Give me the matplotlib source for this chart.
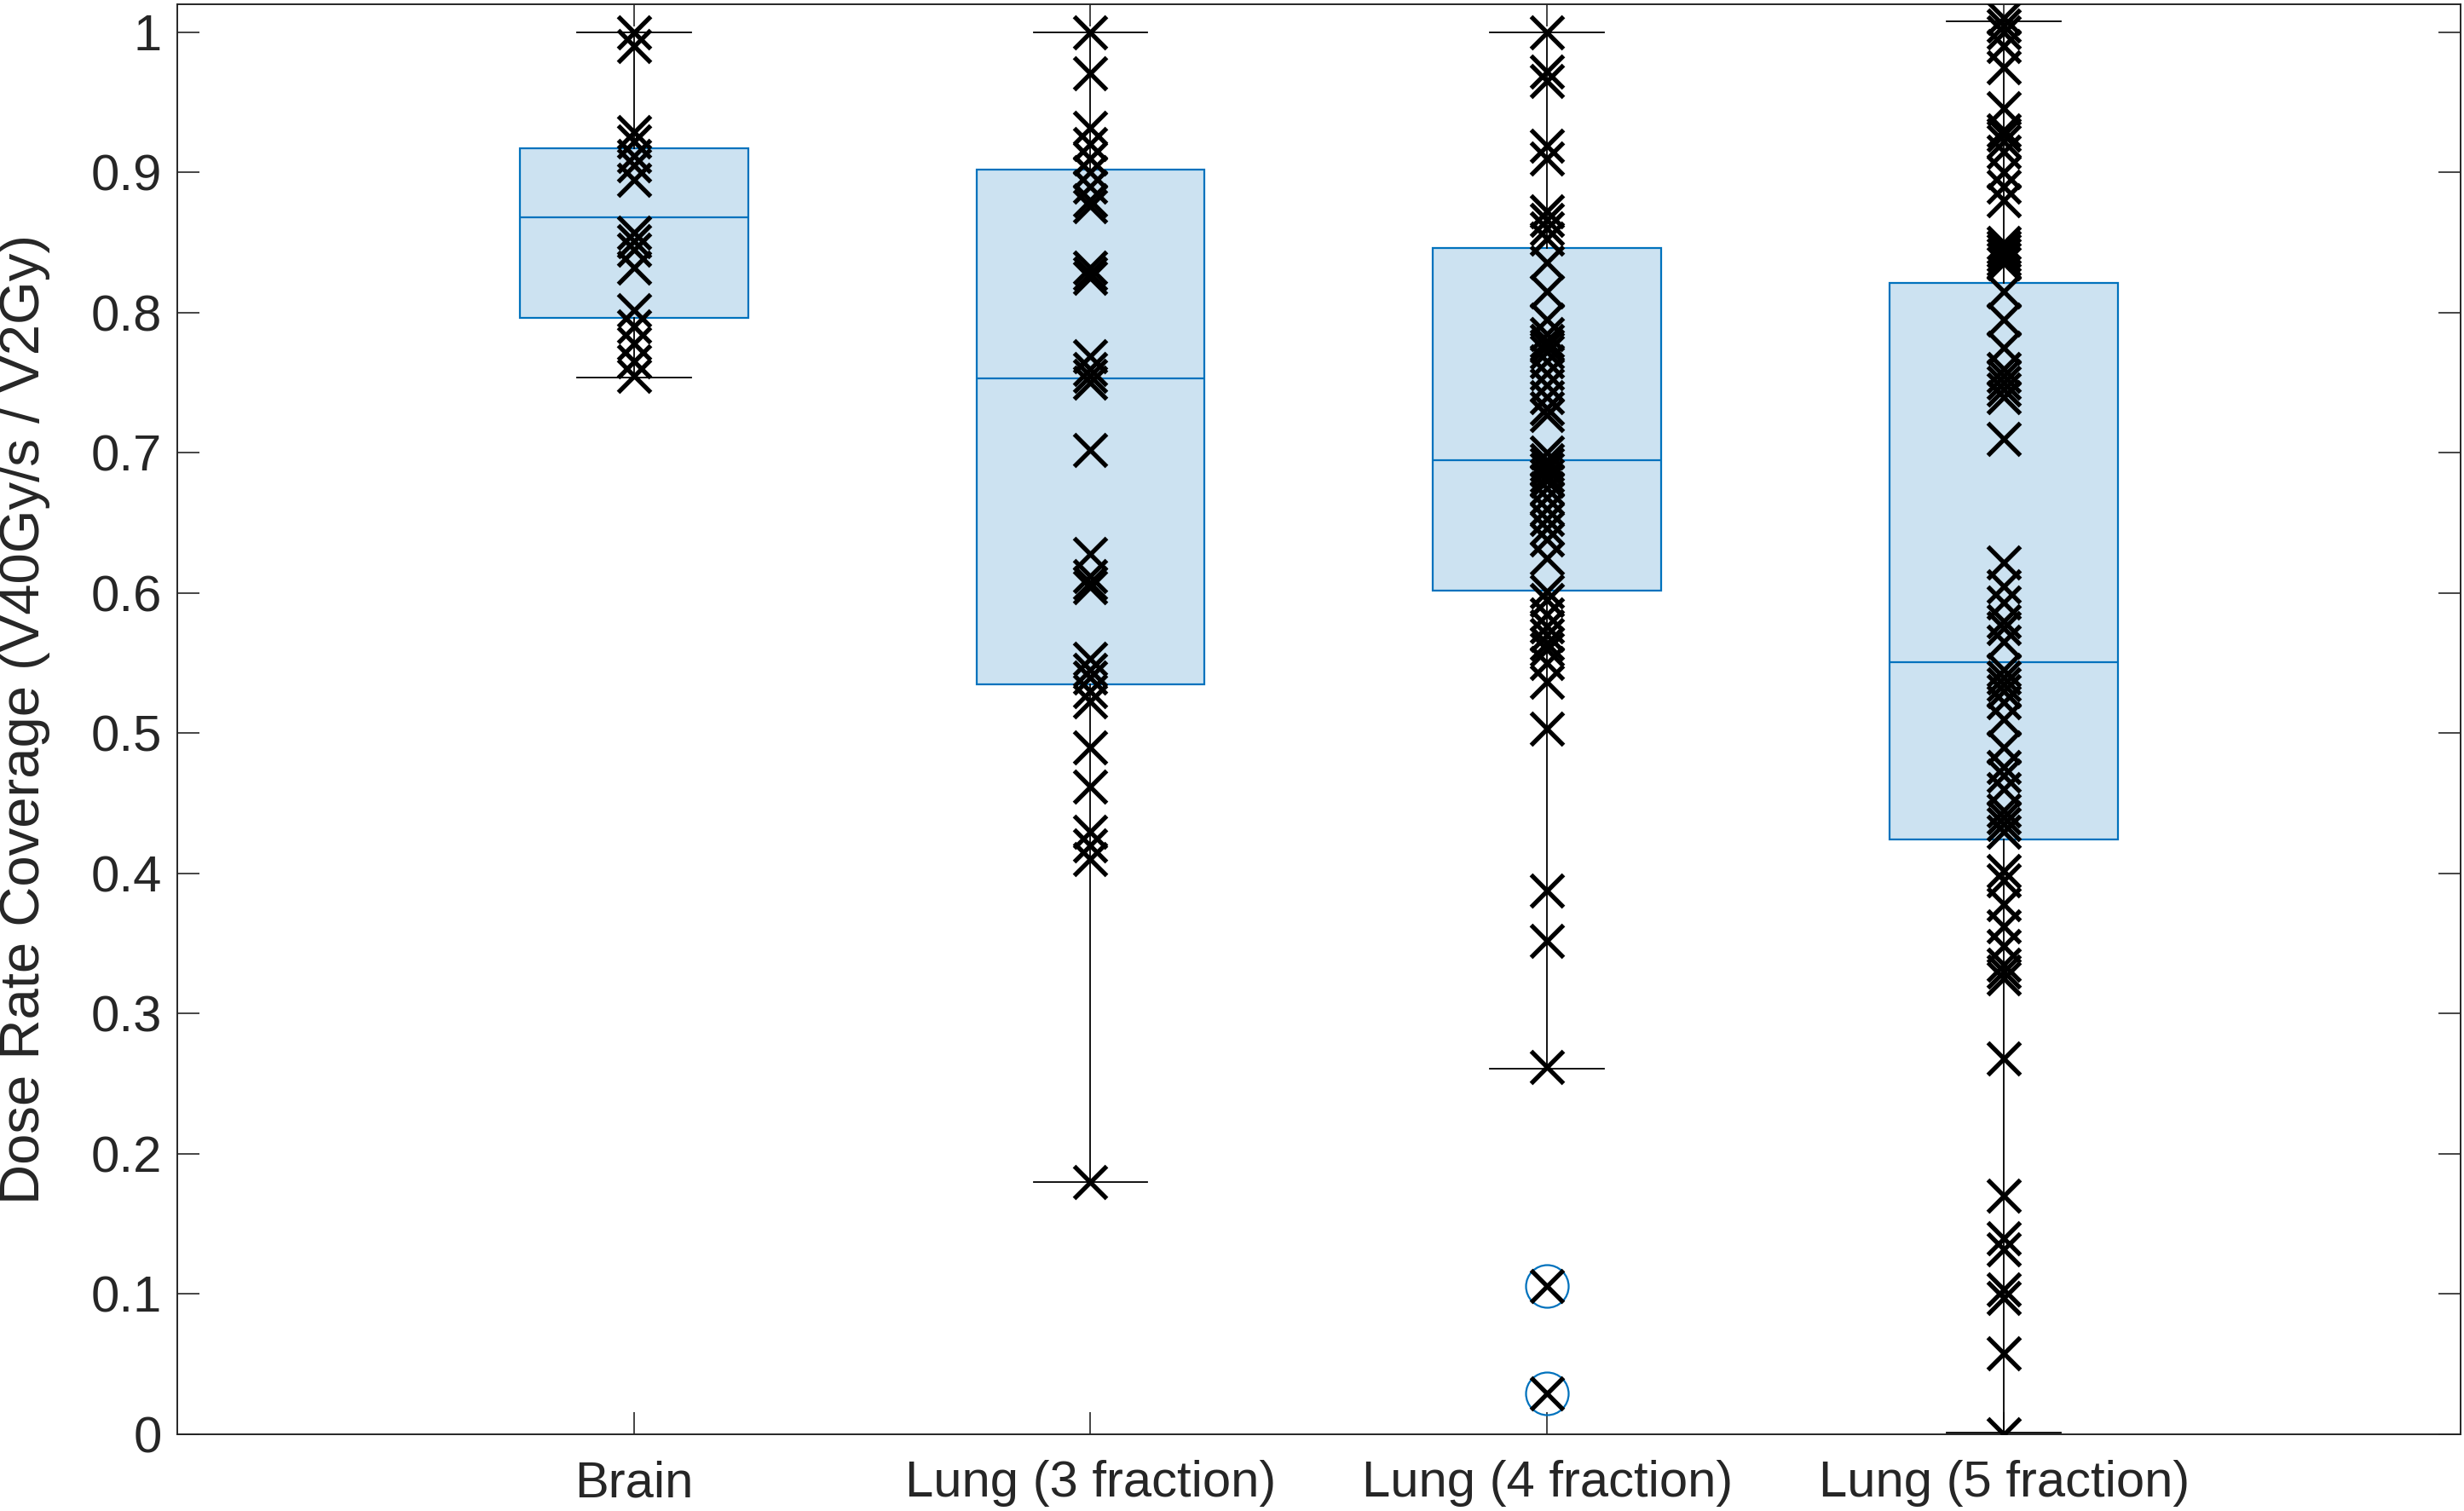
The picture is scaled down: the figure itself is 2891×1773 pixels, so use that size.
import matplotlib
matplotlib.use("Agg")
import matplotlib.pyplot as plt

plt.rcParams['font.family'] = ['Liberation Sans', 'DejaVu Sans']

categories = ["Brain", "Lung (3 fraction)", "Lung (4 fraction)", "Lung (5 fraction)"]

brain = [1.0, 0.99, 0.929, 0.922, 0.912, 0.905, 0.895, 0.857, 0.851, 0.845, 0.832,
         0.802, 0.79, 0.778, 0.765, 0.755]
lung3 = [1.0, 0.971, 0.932, 0.92, 0.91, 0.90, 0.89, 0.88, 0.876, 0.832, 0.828, 0.825,
         0.769, 0.76, 0.755, 0.75, 0.702, 0.628, 0.612, 0.607, 0.604, 0.553, 0.545,
         0.54, 0.53, 0.523, 0.49, 0.462, 0.43, 0.42, 0.41, 0.18]
lung4 = [1.0, 0.972, 0.965, 0.919, 0.91, 0.872, 0.866, 0.86, 0.853, 0.836, 0.815,
         0.795, 0.785, 0.78, 0.776, 0.772, 0.765, 0.757, 0.748, 0.74, 0.732, 0.727,
         0.70, 0.695, 0.692, 0.688, 0.684, 0.68, 0.675, 0.668, 0.66, 0.653, 0.646,
         0.638, 0.625, 0.601, 0.595, 0.585, 0.576, 0.57, 0.564, 0.56, 0.55, 0.537,
         0.503, 0.388, 0.352, 0.262, 0.106, 0.029]
lung5 = [1.01, 1.005, 1.0, 0.99, 0.975, 0.946, 0.93, 0.927, 0.922, 0.915, 0.90, 0.89,
         0.88, 0.85, 0.847, 0.844, 0.841, 0.838, 0.835, 0.815, 0.795, 0.775, 0.76,
         0.755, 0.75, 0.745, 0.74, 0.71, 0.622, 0.605, 0.593, 0.58, 0.575, 0.565,
         0.545, 0.54, 0.535, 0.53, 0.522, 0.51, 0.49, 0.476, 0.47, 0.46, 0.445, 0.44,
         0.435, 0.43, 0.402, 0.395, 0.378, 0.362, 0.348, 0.335, 0.33, 0.325, 0.268,
         0.17, 0.14, 0.132, 0.103, 0.097, 0.058, 0.0]
groups = [brain, lung3, lung4, lung5]

# box statistics as drawn (MATLAB boxplot)
q1 = [0.796, 0.535, 0.602, 0.424]
med = [0.868, 0.753, 0.695, 0.551]
q3 = [0.917, 0.902, 0.846, 0.821]
whislo = [0.754, 0.18, 0.261, 0.001]
whishi = [1.0, 1.0, 1.0, 1.008]
fliers = [[], [], [0.106, 0.029], []]

yticks = [0, 0.1, 0.2, 0.3, 0.4, 0.5, 0.6, 0.7, 0.8, 0.9, 1.0]
yticklabels = ["0", "0.1", "0.2", "0.3", "0.4", "0.5", "0.6", "0.7", "0.8", "0.9", "1"]

blue = "#0072BD"
axcol = "#262626"

fig = plt.figure(figsize=(28.91, 17.73), dpi=100)
ax = fig.add_axes([0.0719, 0.0508, 0.9267, 0.9464])

stats = []
for i in range(len(categories)):
    stats.append(dict(label=categories[i], q1=q1[i], med=med[i], q3=q3[i],
                      whislo=whislo[i], whishi=whishi[i], fliers=fliers[i]))

pos = [1, 2, 3, 4]
ax.bxp(stats, positions=pos, widths=0.5, patch_artist=True,
       boxprops=dict(facecolor=(0, 0.447, 0.741, 0.2), edgecolor=blue, linewidth=1.6),
       medianprops=dict(color=blue, linewidth=1.6),
       whiskerprops=dict(color="k", linewidth=1.3),
       capprops=dict(color="k", linewidth=1.3),
       flierprops=dict(marker="o", markerfacecolor="none", markeredgecolor=blue,
                       markersize=36, markeredgewidth=1.6))

for p, g in zip(pos, groups):
    ax.plot([p] * len(g), g, linestyle="none", marker="x", color="k",
            markersize=27, markeredgewidth=3.8, zorder=5)

ax.set_xlim(0, 5)
ax.set_ylim(0, 1.02)
ax.set_yticks(yticks)
ax.set_yticklabels(yticklabels)
ax.set_xticks(pos)
ax.set_xticklabels(categories)

ax.tick_params(axis="both", which="both", direction="in", length=19, width=1.2,
               top=True, right=True, labelsize=43, colors=axcol)
ax.tick_params(axis="y", pad=13)
ax.tick_params(axis="x", pad=22)
for s in ax.spines.values():
    s.set_color(axcol)
    s.set_linewidth(1.4)

ax.set_ylabel("Dose Rate Coverage (V40Gy/s / V2Gy)", fontsize=47, color=axcol)
ax.yaxis.set_label_coords(-0.0555, 0.5)

fig.savefig("out.png", dpi=100)
